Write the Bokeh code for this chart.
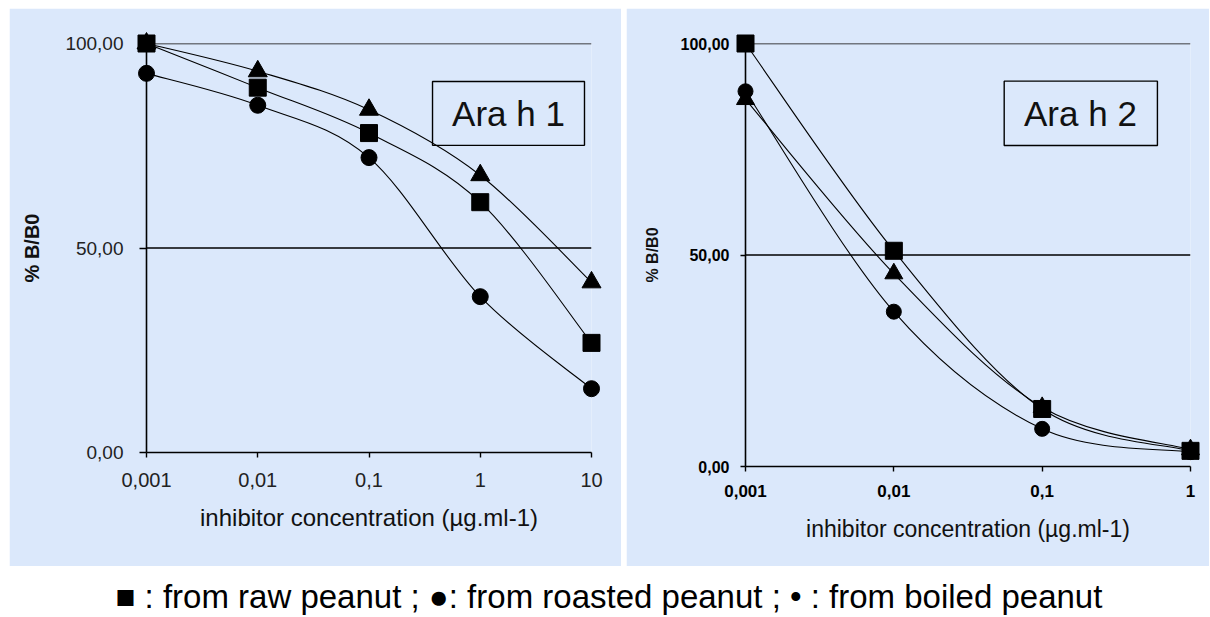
import numpy as np
from bokeh.plotting import figure
from bokeh.layouts import column, row, Spacer
from bokeh.models import FixedTicker, BoxAnnotation, Label, Range1d, ColumnDataSource, Span
from bokeh.embed import file_html
from bokeh.resources import INLINE

# ---------------- data ----------------
# Ara h 1 (inhibitor concentration in µg/ml, % B/B0)
conc1 = [0.001, 0.01, 0.1, 1, 10]
raw1 = [100.0, 89.2, 78.1, 61.2, 26.8]
roasted1 = [92.7, 84.9, 72.1, 38.1, 15.6]
boiled1 = [100.0, 93.2, 83.8, 67.8, 41.6]

# Ara h 2
conc2 = [0.001, 0.01, 0.1, 1]
raw2 = [100.0, 51.0, 13.6, 3.7]
roasted2 = [88.7, 36.6, 8.9, 3.4]
boiled2 = [86.8, 45.6, 14.0, 4.0]

y_ticks = [0, 50, 100]
y_tick_labels = ["0,00", "50,00", "100,00"]
x_tick_labels1 = ["0,001", "0,01", "0,1", "1", "10"]
x_tick_labels2 = ["0,001", "0,01", "0,1", "1"]

x_title = "inhibitor concentration (µg.ml-1)"
y_title = "% B/B0"
legend_text = "\u25a0 : from raw peanut ; \u25cf: from roasted peanut ; \u2022 :  from boiled peanut"

BG = "#dbe8fb"
FONT = "Liberation Sans"


def smooth(xs, ys):
    """Bezier control points (Excel-like smoothed line) computed from the data."""
    lx = np.log10(np.asarray(xs, dtype=float))
    y = np.asarray(ys, dtype=float)
    P = np.column_stack([lx, y])
    n = len(P)
    d = {k: [] for k in ["x0", "y0", "x1", "y1", "cx0", "cy0", "cx1", "cy1"]}
    for i in range(n - 1):
        p0 = P[max(i - 1, 0)]
        p1 = P[i]
        p2 = P[i + 1]
        p3 = P[min(i + 2, n - 1)]
        c1 = p1 + (p2 - p0) / 6.0
        c2 = p2 - (p3 - p1) / 6.0
        d["x0"].append(p1[0]); d["y0"].append(p1[1])
        d["x1"].append(p2[0]); d["y1"].append(p2[1])
        d["cx0"].append(c1[0]); d["cy0"].append(c1[1])
        d["cx1"].append(c2[0]); d["cy1"].append(c2[1])
    return ColumnDataSource(d)


def make_panel(conc, raw, roasted, boiled, xlabels, width, borders, bold, fs):
    lx = list(np.log10(conc))
    p = figure(width=width, height=558, x_range=Range1d(lx[0], lx[-1]), y_range=Range1d(0, 100),
               output_backend="svg", toolbar_location=None,
               min_border_left=borders[0], min_border_right=borders[1],
               min_border_top=borders[2], min_border_bottom=borders[3],
               background_fill_color=BG, border_fill_color=BG, outline_line_color=None)
    p.grid.visible = False
    for loc in [50, 100]:
        p.add_layout(Span(location=loc, dimension="width", line_color="black", line_width=1.4))

    for series in [boiled, roasted, raw]:
        r = p.bezier(x0="x0", y0="y0", x1="x1", y1="y1", cx0="cx0", cy0="cy0", cx1="cx1", cy1="cy1",
                     source=smooth(conc, series), line_color="black", line_width=1.1)
        r.level = "overlay"
    r = p.scatter(lx, boiled, marker="triangle", size=fs["tri"], color="black")
    r.level = "overlay"
    r = p.scatter(lx, roasted, marker="circle", size=fs["circ"], color="black")
    r.level = "overlay"
    r = p.scatter(lx, raw, marker="square", size=fs["sq"], color="black")
    r.level = "overlay"

    weight = "bold" if bold else "normal"
    tcol = "black" if bold else "#222222"
    p.xaxis.ticker = FixedTicker(ticks=[int(round(v)) for v in lx])
    p.xaxis.major_label_overrides = {int(round(v)): s for v, s in zip(lx, xlabels)}
    p.yaxis.ticker = FixedTicker(ticks=y_ticks)
    p.yaxis.major_label_overrides = {t: s for t, s in zip(y_ticks, y_tick_labels)}
    for ax in [p.xaxis[0], p.yaxis[0]]:
        ax.axis_line_color = "black"
        ax.axis_line_width = 1.6
        ax.major_tick_line_color = "black"
        ax.major_tick_line_width = 1.4
        ax.major_tick_in = 0
        ax.minor_tick_line_color = None
        ax.major_label_text_font = FONT
        ax.major_label_text_font_style = weight
        ax.major_label_text_color = tcol
        ax.axis_label_text_font = FONT
        ax.axis_label_text_color = "#111111"
    p.xaxis.axis_label = x_title
    p.xaxis.axis_label_text_font_style = "normal"
    p.yaxis.axis_label = y_title
    p.yaxis.axis_label_text_font_style = "bold"
    return p


p1 = make_panel(conc1, raw1, roasted1, boiled1, x_tick_labels1, 612, (137, 30, 35, 114), False,
                {"tri": 19, "circ": 16, "sq": 17})
p1.xaxis.major_label_text_font_size = "20px"
p1.yaxis.major_label_text_font_size = "19px"
p1.xaxis.major_tick_out = 5
p1.yaxis.major_tick_out = 7
p1.xaxis.major_label_standoff = 15
p1.yaxis.major_label_standoff = 16
p1.xaxis.axis_label_text_font_size = "24px"
p1.xaxis.axis_label_standoff = 14
p1.yaxis.axis_label_text_font_size = "20px"
p1.yaxis.axis_label_standoff = 19
p1.add_layout(BoxAnnotation(left=-0.429, right=0.937, top=90.7, bottom=75.1,
                            fill_alpha=0, line_color="black", line_alpha=1.0, line_width=1.4))
p1.add_layout(Label(x=0.254, y=82.9, text="Ara h 1", text_font=FONT, text_font_size="35px",
                    text_align="center", text_baseline="middle", text_color="#111111"))

p2 = make_panel(conc2, raw2, roasted2, boiled2, x_tick_labels2, 583, (119, 19, 35, 100), True,
                {"tri": 18, "circ": 15, "sq": 17})
p2.xaxis.major_label_text_font_size = "17px"
p2.yaxis.major_label_text_font_size = "16px"
p2.xaxis.major_tick_out = 5
p2.yaxis.major_tick_out = 5
p2.xaxis.major_label_standoff = 13
p2.yaxis.major_label_standoff = 11
p2.xaxis.axis_label_text_font_size = "23px"
p2.xaxis.axis_label_standoff = 16
p2.yaxis.axis_label_text_font_size = "16px"
p2.yaxis.axis_label_standoff = 17
p2.add_layout(BoxAnnotation(left=-1.256, right=-0.223, top=91.1, bottom=75.9,
                            fill_alpha=0, line_color="black", line_alpha=1.0, line_width=1.4))
p2.add_layout(Label(x=-0.742, y=83.5, text="Ara h 2", text_font=FONT, text_font_size="35px",
                    text_align="center", text_baseline="middle", text_color="#111111"))

p3 = figure(width=1209, height=51, x_range=Range1d(0, 1209), y_range=Range1d(0, 51),
            output_backend="svg", toolbar_location=None, min_border=0,
            outline_line_color=None, background_fill_color="white", border_fill_color="white")
p3.axis.visible = False
p3.grid.visible = False
p3.add_layout(Label(x=613, y=21, text=legend_text, text_font=FONT, text_font_size="33px",
                    text_align="center", text_baseline="middle", text_color="black"))

layout = column(Spacer(height=8),
                row(Spacer(width=9), column(p1), Spacer(width=5), column(p2), spacing=0),
                p3, spacing=0)
open("out.html", "w").write(file_html(layout, INLINE))
